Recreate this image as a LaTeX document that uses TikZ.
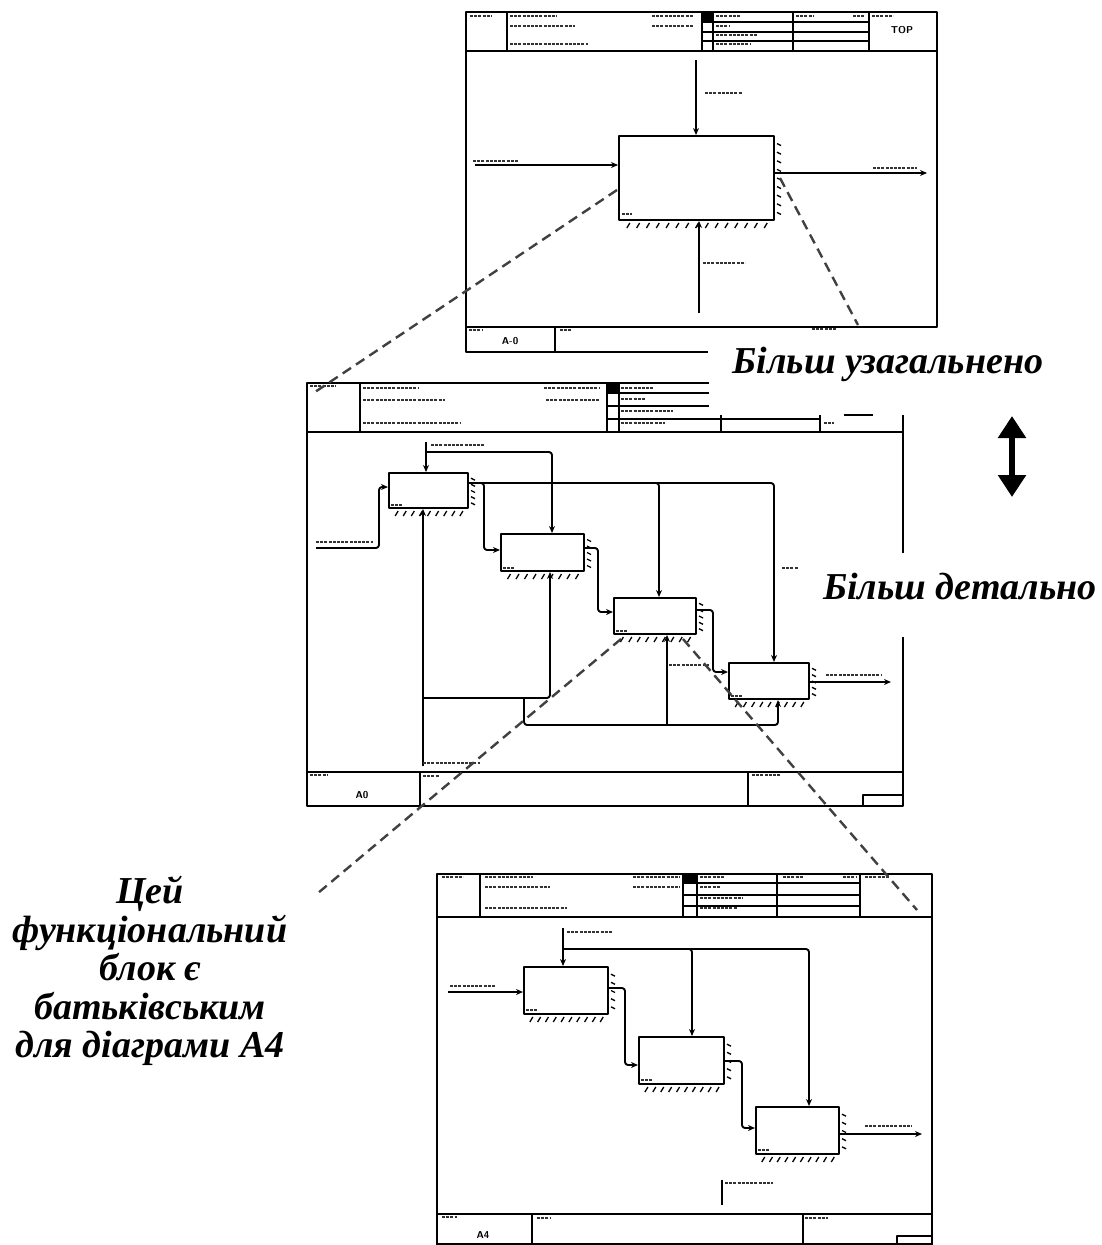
\documentclass[tikz,border=0pt]{standalone}
\usepackage{fontspec}
\setmainfont{Liberation Serif}
\usetikzlibrary{arrows.meta,calc}

% illegible small caption, drawn as a smudge
\newcommand\lbl[3]{\draw[smudge] (#1,#3) -- (#2,#3);}
% ticks below and right of a function box
\newcommand\hatchbox[3]{%
  \foreach \k in {1,...,#2}{%
    \pgfmathsetmacro\fr{\k/(#2+1)}%
    \draw[tick] ($(#1.south west)!\fr!(#1.south east)+(2,2)$) -- ++(-3,5);}%
  \foreach \k in {1,...,#3}{%
    \pgfmathsetmacro\fr{\k/(#3+1)}%
    \draw[tick] ($(#1.north east)!\fr!(#1.south east)+(2,0)$) -- ++(4,2);}%
}

\begin{document}
\begin{tikzpicture}[x=1pt,y=-1pt,line join=round]
\tikzstyle{sheet} = [line width=2.2pt]
\tikzstyle{rule} = [line width=1.5pt]
\tikzstyle{fbox} = [draw,line width=2pt,anchor=north west,inner sep=0pt,fill=white]
\tikzstyle{link} = [line width=1.9pt,rounded corners=3pt]
\tikzstyle{arr} = [link,-{Stealth[length=7pt,width=6pt]}]
\tikzstyle{tick} = [line width=1.3pt]
\tikzstyle{smudge} = [line width=2pt,gray!40!black,dash pattern=on 3pt off 1.2pt]
\tikzstyle{zoomline} = [line width=2.4pt,black!75,dash pattern=on 10pt off 6pt]
\tikzstyle{note} = [font=\bfseries\itshape\fontsize{38}{38.5}\selectfont,align=center,inner sep=0pt]
\tikzstyle{tag} = [font=\sffamily\bfseries\fontsize{10}{11}\selectfont,inner sep=0pt]
\useasboundingbox (0,0) rectangle (1101,1245);

% ---- top diagram (A-0) ----
\draw[sheet] (466,12) rectangle (937,327);
\draw[sheet] (466,51) -- (937,51);
\foreach \x in {507,702,713,793,869} \draw[sheet] (\x,12) -- (\x,51);
\fill (702,12) rectangle (713,22);
\foreach \y in {22,32,41} \draw[rule] (702,\y) -- (869,\y);
\draw[sheet] (466,327) -- (466,352) -- (708,352);
\draw[sheet] (555,327) -- (555,352);
\node[tag] (toptag) at (902,30) {TOP};
\node[tag] (ctxtag) at (510,341) {A-0};
\foreach \a/\b/\y in {470/492/16,510/557/16,510/575/26,510/588/44,652/693/16,652/693/26,
  716/740/16,716/730/26,716/757/35,716/750/44,796/813/16,853/865/16,872/893/16,
  469/483/330,560/572/330,812/837/329}
  {\lbl{\a}{\b}{\y}}

\node[fbox,minimum width=155,minimum height=84] (a0) at (618,135) {};
\hatchbox{a0}{15}{9}
\coordinate (ctl0) at (696,60);
\coordinate (in0) at (475,165);
\coordinate (out0) at (927,173);
\coordinate (mec0) at (699,313);
\draw[arr] (ctl0) -- (ctl0 |- a0.north);
\draw[arr] (in0) -- (in0 -| a0.west);
\draw[arr] (a0.east |- out0) -- (out0);
\draw[arr] (mec0) -- (mec0 |- a0.south);
\foreach \a/\b/\y in {705/742/93,473/518/161,873/917/168,703/745/263,622/632/214}
  {\lbl{\a}{\b}{\y}}

% ---- middle diagram (A0) ----
\draw[sheet] (709,383) -- (307,383) -- (307,806) -- (903,806) -- (903,637);
\draw[sheet] (903,553) -- (903,415);
\draw[sheet] (307,432) -- (903,432);
\foreach \x in {360,607,619} \draw[sheet] (\x,383) -- (\x,432);
\foreach \x in {721,820} \draw[sheet] (\x,415) -- (\x,432);
\fill (607,383) rectangle (619,393);
\foreach \y in {393,406} \draw[rule] (607,\y) -- (709,\y);
\draw[rule] (607,419) -- (820,419);
\draw[rule] (844,415) -- (873,415);
\draw[sheet] (307,772) -- (903,772);
\foreach \x in {420,748} \draw[sheet] (\x,772) -- (\x,806);
\draw[rule] (863,806) |- (903,795);
\node[tag] (midtag) at (362,795) {A0};
\foreach \a/\b/\y in {310/336/386,363/419/388,363/445/400,363/461/423,544/600/388,546/600/400,
  621/653/388,621/645/399,621/673/411,621/665/423,824/834/423,
  310/328/775,423/439/776,752/780/775}
  {\lbl{\a}{\b}{\y}}

\node[fbox,minimum width=79,minimum height=35] (b1) at (388,472) {};
\node[fbox,minimum width=83,minimum height=37] (b2) at (500,533) {};
\node[fbox,minimum width=82,minimum height=36] (b3) at (613,597) {};
\node[fbox,minimum width=80,minimum height=36] (b4) at (728,662) {};
\foreach \b in {b1,b2,b3,b4}{
  \hatchbox{\b}{9}{5}
  \draw[smudge,line width=1.4pt] ($(\b.south west)+(3,-4)$) -- ++(11,0);
}
\coordinate (ctl1) at (426,442);
\coordinate (in1) at (316,548);
\coordinate (out1) at (891,682);
\coordinate (mec1) at (423,766);
\coordinate (q1) at ($(b1.north east)+(0,11)$);
\draw[arr] (ctl1) -- (ctl1 |- b1.north);
\draw[arr] ($(ctl1)+(0,10)$) -| ($(b2.north west)+(52,0)$);
\draw[arr] (in1) -- ++(63,0) |- ($(b1.north west)+(0,15)$);
\draw[arr] (q1) -| ($(b4.north west)+(46,0)$);
\draw[arr] (q1) -| ($(b3.north west)+(46,0)$);
\draw[arr] (q1) -- ++(15,0) |- ($(b2.north west)+(0,17)$);
\draw[arr] ($(b2.north east)+(0,15)$) -- ++(13,0) |- ($(b3.north west)+(0,15)$);
\draw[arr] ($(b3.north east)+(0,13)$) -- ++(16,0) |- ($(b4.north west)+(0,10)$);
\draw[arr] ($(b4.north east)+(0,20)$) -- (out1);
\draw[arr] (mec1) -- (mec1 |- b1.south);
\draw[arr] ($(mec1)+(0,-68)$) -| ($(b2.south west)+(50,0)$);
\coordinate (mec2) at (524,698);
\draw[arr] (mec2) |- ($(b4.south west)+(50,25)$) -- ($(b4.south west)+(50,0)$);
\draw[arr] ($(b3.south west)+(54,90)$) -- ($(b3.south west)+(54,0)$);
\foreach \a/\b/\y in {431/485/445,316/373/542,826/881/675,782/798/568,669/709/665,423/480/763}
  {\lbl{\a}{\b}{\y}}

% ---- bottom diagram (A4) ----
\draw[sheet] (437,1245) -- (437,874) -- (932,874) -- (932,1245);
\draw[sheet] (437,1244) -- (932,1244);
\draw[sheet] (437,917) -- (932,917);
\foreach \x in {480,683,697,777,860} \draw[sheet] (\x,874) -- (\x,917);
\fill (683,874) rectangle (697,883);
\foreach \y in {883,895,906} \draw[rule] (683,\y) -- (860,\y);
\draw[sheet] (437,1214) -- (932,1214);
\foreach \x in {532,803} \draw[sheet] (\x,1214) -- (\x,1245);
\draw[rule] (897,1245) |- (932,1236);
\node[tag] (subtag) at (483,1235) {A4};
\foreach \a/\b/\y in {442/463/877,485/533/877,485/550/887,485/567/908,633/680/877,633/680/887,
  700/725/877,700/720/887,700/743/898,700/737/908,783/803/877,843/857/877,865/890/877,
  442/457/1217,537/550/1218,805/828/1218}
  {\lbl{\a}{\b}{\y}}

\node[fbox,minimum width=84,minimum height=47] (c1) at (523,966) {};
\node[fbox,minimum width=85,minimum height=47] (c2) at (638,1036) {};
\node[fbox,minimum width=83,minimum height=47] (c3) at (755,1106) {};
\foreach \c in {c1,c2,c3}{
  \hatchbox{\c}{10}{5}
  \draw[smudge,line width=1.4pt] ($(\c.south west)+(3,-5)$) -- ++(12,0);
}
\coordinate (ctl2) at (563,928);
\coordinate (in2) at (448,992);
\coordinate (out2) at (922,1134);
\coordinate (stub1) at (722,1180);
\coordinate (stub2) at (722,1205);
\draw[arr] (ctl2) -- (ctl2 |- c1.north);
\draw[arr] ($(ctl2)+(0,21)$) -| ($(c2.north west)+(54,0)$);
\draw[arr] ($(ctl2)+(0,21)$) -| ($(c3.north west)+(54,0)$);
\draw[arr] (in2) -- (in2 -| c1.west);
\draw[arr] ($(c1.north east)+(0,22)$) -- ++(16,0) |- ($(c2.north west)+(0,29)$);
\draw[arr] ($(c2.north east)+(0,25)$) -- ++(17,0) |- ($(c3.north west)+(0,22)$);
\draw[arr] ($(c3.north east)+(0,28)$) -- (out2);
\draw[link] (stub1) -- (stub2);
\foreach \a/\b/\y in {567/613/932,450/495/986,865/912/1126,725/773/1183}
  {\lbl{\a}{\b}{\y}}

% ---- zoom lines ----
\draw[zoomline] ($(a0.north west)+(-1,55)$) -- (315,392);
\draw[zoomline] ($(a0.north east)+(5,43)$) -- (858,325);
\draw[zoomline] ($(b3.south west)+(8,4)$) -- (318,893);
\draw[zoomline] ($(b3.south east)+(-14,4)$) -- (917,910);

% ---- notes ----
\draw[line width=6pt,{Triangle[length=22pt,width=27pt]}-{Triangle[length=22pt,width=27pt]}] (1012,416) -- (1012,497);
\node[note] (gen) at (888,364) {Більш узагальнено};
\node[note] (det) at (960,587) {Більш детально};
\node[note] (par) at (150,971) {Цей\\функціональний\\блок є\\батьківським\\для діаграми А4};
\end{tikzpicture}
\end{document}
